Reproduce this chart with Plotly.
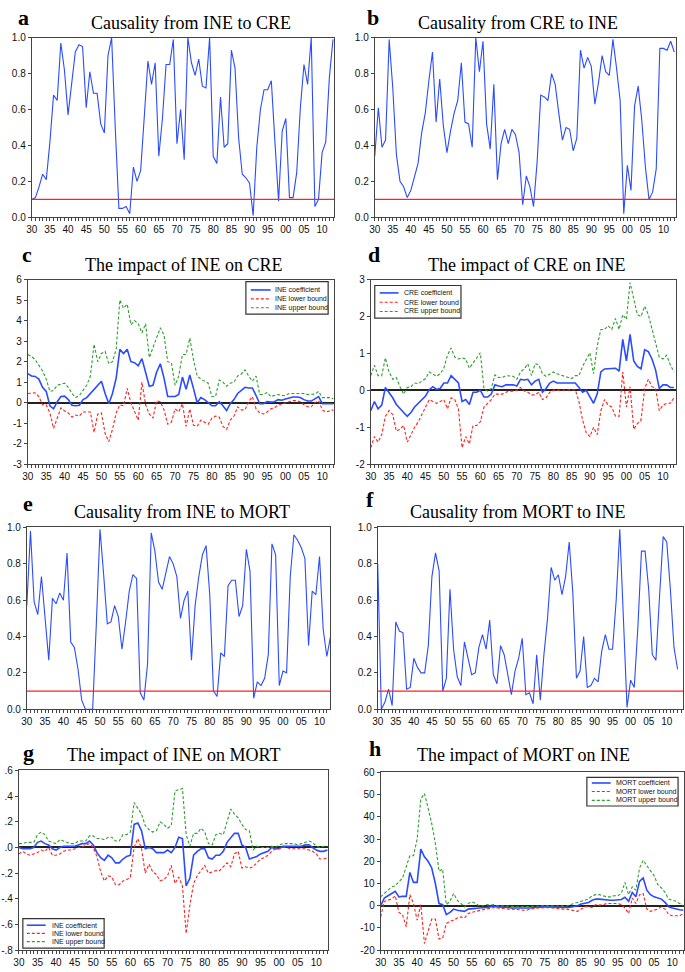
import plotly.graph_objects as go

years = list(range(1930, 2014))

# Panel a: Causality from INE to CRE (p-values)
a_vals = [0.10,0.11,0.17,0.24,0.21,0.42,0.68,0.65,0.97,0.82,
          0.57,0.76,0.92,0.96,0.95,0.61,0.81,0.69,0.69,0.52,
          0.47,0.90,1.00,0.50,0.05,0.05,0.06,0.02,0.28,0.20,
          0.26,0.56,0.87,0.74,0.86,0.34,0.55,0.85,0.85,0.99,
          0.41,0.60,0.32,1.00,0.86,0.79,0.88,0.73,0.72,1.00,
          0.34,0.30,0.67,0.39,0.41,0.93,0.83,0.44,0.24,0.22,
          0.19,0.01,0.39,0.60,0.71,0.71,0.76,0.42,0.09,0.48,
          0.55,0.11,0.11,0.25,0.61,0.85,0.74,1.00,0.06,0.10,
          0.36,0.42,0.78,0.99]

# Panel b: Causality from CRE to INE
b_vals = [0.34,0.61,0.39,0.43,0.99,0.72,0.35,0.20,0.17,0.11,
          0.15,0.22,0.30,0.47,0.58,0.76,0.92,0.53,0.77,0.51,
          0.36,0.48,0.58,0.65,0.86,0.53,0.52,0.39,1.00,0.81,
          0.98,0.52,0.38,0.74,0.21,0.41,0.49,0.41,0.49,0.46,
          0.36,0.07,0.23,0.17,0.06,0.31,0.68,0.67,0.65,0.80,
          0.74,0.58,0.43,0.50,0.49,0.37,0.44,0.93,0.83,0.89,
          0.84,0.63,0.75,0.90,0.81,0.79,0.99,0.83,0.65,0.02,
          0.29,0.15,0.62,0.73,0.54,0.28,0.10,0.14,0.27,0.94,
          0.94,0.93,0.98,0.92]

# Panel c: impact of INE on CRE
c_coef = [1.42,1.30,1.28,1.15,0.75,0.55,-0.15,-0.30,0.05,0.30,
          0.32,0.15,-0.12,-0.15,-0.12,0.15,0.25,0.45,0.65,0.85,
          1.05,0.45,-0.05,0.45,1.20,2.60,2.40,2.60,2.00,1.95,
          1.80,2.15,1.50,0.80,0.85,1.50,1.90,1.20,0.30,0.30,
          0.30,0.40,1.25,0.65,1.35,0.70,0.00,0.25,0.15,0.00,
          -0.15,-0.15,0.05,-0.15,-0.38,-0.05,0.15,0.45,0.60,0.75,
          0.72,0.72,0.35,-0.05,-0.05,0.05,0.03,0.05,0.15,0.12,
          0.18,0.22,0.28,0.28,0.25,0.15,0.08,0.08,0.20,0.30,
          -0.05,-0.05,-0.05,-0.05]
c_low = [0.45,0.45,0.48,0.30,-0.10,-0.10,-0.50,-1.25,-0.70,-0.25,
         -0.40,-0.50,-0.70,-0.60,-0.65,-0.45,-0.45,-0.45,-1.45,-0.55,
         -0.50,-1.50,-1.90,-1.30,-0.50,-0.10,-0.15,0.70,0.00,-0.45,
         -0.85,1.00,-0.10,-0.55,-0.75,0.10,0.05,-0.35,-1.05,-0.95,
         -0.30,-0.45,-0.05,-1.15,-0.30,-1.10,-1.15,-0.85,-0.95,-1.05,
         -0.75,-0.65,-0.70,-1.15,-1.30,-0.85,-0.65,-0.20,-0.35,-0.35,
         0.05,0.30,-0.30,-0.50,-0.55,-0.45,-0.30,-0.25,-0.10,-0.10,
         0.00,0.05,0.10,0.10,0.05,-0.10,-0.20,-0.20,0.00,0.10,
         -0.35,-0.45,-0.40,-0.35]
c_up = [2.35,2.25,2.10,1.85,1.55,1.15,0.55,0.60,0.85,0.90,
        0.95,0.75,0.45,0.25,0.35,0.60,0.85,1.30,2.85,2.00,
        2.40,2.50,1.90,2.00,2.60,5.00,4.60,4.80,3.80,4.00,
        3.85,3.40,3.85,2.20,2.70,3.20,3.65,3.30,2.00,1.95,
        0.85,1.30,2.35,2.35,3.15,2.10,1.30,1.15,1.05,0.95,
        0.30,0.30,1.10,1.00,0.80,0.95,1.00,1.30,1.40,1.60,
        1.30,1.05,1.30,0.40,0.40,0.50,0.30,0.35,0.40,0.35,
        0.35,0.45,0.45,0.48,0.48,0.45,0.40,0.40,0.42,0.55,
        0.25,0.25,0.25,0.20]

# Panel d: impact of CRE on INE
d_coef = [-0.55,-0.30,-0.50,-0.40,0.08,-0.05,-0.20,-0.38,-0.50,-0.60,
          -0.70,-0.60,-0.45,-0.35,-0.25,-0.15,0.02,0.10,0.03,0.05,
          0.20,0.20,0.40,0.30,0.20,-0.30,-0.25,-0.38,-0.05,-0.05,
          0.00,-0.18,-0.18,-0.10,0.15,0.12,0.10,0.15,0.15,0.15,
          0.12,0.30,0.28,0.30,0.15,0.25,0.30,-0.05,0.05,0.20,
          0.25,0.20,0.20,0.20,0.18,0.18,0.20,0.08,-0.05,0.00,
          -0.18,-0.35,-0.10,0.50,0.58,0.58,0.58,0.60,0.52,1.38,
          0.80,1.52,0.80,0.65,0.58,1.10,1.05,0.85,0.55,0.05,
          0.15,0.15,0.08,0.08]
d_low = [-1.55,-1.25,-1.40,-1.20,-0.70,-0.55,-0.65,-1.10,-1.05,-0.95,
         -1.40,-1.20,-1.00,-0.85,-0.65,-0.45,-0.25,-0.30,-0.35,-0.30,
         -0.25,-0.50,-0.20,-0.25,-0.50,-1.55,-1.25,-1.45,-0.95,-0.95,
         -0.85,-0.45,-0.35,-0.25,-0.10,-0.10,-0.10,-0.05,-0.02,-0.02,
         0.00,0.08,-0.02,-0.05,-0.12,-0.12,-0.05,-0.25,-0.20,-0.05,
         0.00,0.00,0.00,0.00,0.02,0.02,0.02,-0.30,-0.80,-1.15,
         -1.25,-1.00,-1.20,-0.55,-0.25,-0.40,-0.45,-0.70,-0.70,0.50,
         -0.45,0.10,-1.05,-0.90,-0.80,0.05,0.30,0.10,0.05,-0.55,
         -0.40,-0.35,-0.35,-0.20]
d_up = [0.40,0.68,0.40,0.40,0.88,0.50,0.30,0.35,0.10,-0.10,
        0.08,0.10,0.20,0.18,0.25,0.32,0.50,0.45,0.38,0.45,
        0.60,0.95,1.15,0.90,0.85,0.88,0.85,0.60,0.75,0.90,
        1.02,0.05,-0.02,0.05,0.42,0.35,0.35,0.40,0.40,0.38,
        0.30,0.50,0.58,0.72,0.40,0.72,0.70,0.45,0.38,0.45,
        0.50,0.45,0.42,0.38,0.35,0.32,0.40,0.40,0.65,0.85,
        1.02,0.45,1.20,1.65,1.65,1.75,1.65,1.95,1.65,2.05,
        1.92,2.92,2.50,2.05,2.00,2.28,2.05,1.65,1.30,0.90,
        0.85,0.95,0.70,0.50]

# Panel e: Causality from INE to MORT
e_vals = [0.57,0.98,0.59,0.52,0.73,0.48,0.27,0.61,0.58,0.64,
          0.60,0.86,0.37,0.34,0.22,0.05,0.00,0.00,0.00,0.47,
          0.99,0.74,0.47,0.48,0.57,0.51,0.33,0.48,0.65,0.74,
          0.72,0.09,0.05,0.25,0.97,0.87,0.70,0.66,0.76,0.84,
          0.80,0.73,0.50,0.60,0.65,0.27,0.57,0.73,0.85,0.90,
          0.63,0.10,0.07,0.31,0.29,0.68,0.71,0.71,0.51,0.57,
          0.88,0.76,0.06,0.15,0.13,0.17,0.30,0.91,0.85,0.13,
          0.21,0.20,0.73,0.96,0.93,0.89,0.83,0.35,0.65,0.63,
          0.84,0.44,0.29,0.40]

# Panel f: Causality from MORT to INE
f_vals = [0.80,0.00,0.04,0.11,0.02,0.48,0.43,0.42,0.11,0.12,
          0.28,0.23,0.20,0.20,0.35,0.73,0.86,0.76,0.10,0.17,
          0.66,0.33,0.18,0.13,0.37,0.28,0.19,0.20,0.34,0.41,
          0.33,0.49,0.19,0.14,0.35,0.30,0.20,0.08,0.21,0.28,
          0.39,0.08,0.09,0.03,0.30,0.05,0.30,0.50,0.78,0.71,
          0.74,0.63,0.73,0.92,0.64,0.17,0.21,0.40,0.12,0.13,
          0.17,0.15,0.32,0.41,0.33,0.33,0.60,0.99,0.50,0.01,
          0.16,0.12,0.45,0.87,0.87,0.66,0.30,0.27,0.62,0.95,
          0.92,0.66,0.34,0.22]

# Panel g: impact of INE on MORT
g_coef = [0.00,-0.01,-0.01,-0.01,0.00,0.04,0.05,0.03,0.02,-0.01,
          -0.02,0.00,0.01,0.01,0.01,0.01,0.02,0.03,0.03,0.05,
          0.02,-0.04,-0.08,-0.10,-0.06,-0.08,-0.12,-0.12,-0.09,-0.07,
          -0.06,0.18,0.19,0.13,-0.01,0.00,-0.01,-0.04,-0.04,-0.04,
          -0.02,-0.04,0.00,0.08,0.07,-0.30,-0.24,-0.06,-0.03,-0.01,
          -0.01,-0.08,-0.09,-0.06,-0.06,-0.03,0.04,0.08,0.11,0.11,
          0.02,0.00,-0.09,-0.08,-0.07,-0.05,-0.04,-0.03,0.00,-0.01,
          -0.01,0.01,0.01,0.01,0.01,0.01,0.01,0.02,0.02,0.00,
          -0.02,-0.03,-0.03,-0.02]
g_low = [-0.05,-0.03,-0.05,-0.06,-0.05,-0.04,-0.02,-0.03,0.00,-0.06,
         -0.06,-0.05,-0.03,-0.02,-0.02,-0.01,0.00,0.00,0.02,0.03,
         0.00,-0.07,-0.19,-0.26,-0.22,-0.23,-0.29,-0.29,-0.26,-0.25,
         -0.23,0.00,0.07,-0.01,-0.20,-0.13,-0.19,-0.21,-0.26,-0.25,
         -0.22,-0.14,-0.28,-0.23,-0.30,-0.67,-0.45,-0.28,-0.22,-0.18,
         -0.14,-0.20,-0.19,-0.18,-0.18,-0.15,-0.12,-0.15,-0.05,-0.03,
         -0.16,-0.15,-0.16,-0.15,-0.12,-0.09,-0.08,-0.06,-0.03,-0.01,
         -0.01,0.00,0.00,-0.01,-0.01,-0.01,-0.01,-0.01,-0.02,-0.03,
         -0.05,-0.09,-0.09,-0.08]
g_up = [0.03,0.03,0.04,0.04,0.04,0.10,0.12,0.10,0.05,0.04,
        0.03,0.06,0.05,0.04,0.03,0.03,0.05,0.05,0.05,0.09,
        0.09,0.07,0.07,0.06,0.08,0.08,0.05,0.05,0.10,0.10,
        0.12,0.35,0.30,0.26,0.17,0.14,0.12,0.13,0.20,0.18,
        0.15,0.17,0.44,0.45,0.46,0.10,0.01,0.11,0.11,0.15,
        0.12,0.03,0.02,0.10,0.11,0.10,0.20,0.30,0.26,0.23,
        0.18,0.14,0.13,-0.02,0.01,0.00,0.00,0.00,0.01,0.00,
        0.02,0.03,0.03,0.03,0.03,0.02,0.03,0.04,0.05,0.04,
        0.01,0.00,0.01,0.01]

# Panel h: impact of MORT on INE
h_coef = [0.0,3.5,4.5,5.5,6.5,4.0,4.3,4.2,15.0,10.5,
          10.5,25.5,22.0,20.0,17.0,10.0,1.0,0.5,-4.0,-3.0,
          -1.5,-2.0,-2.2,-2.5,-1.5,-1.2,-1.2,-1.0,-1.0,-0.8,
          -0.5,-0.2,-0.5,-0.5,-0.8,-0.8,-1.0,-1.0,-1.0,-1.2,
          -1.2,-1.0,-0.8,-0.6,-0.5,-0.5,-0.5,-0.6,-0.7,-0.8,
          -0.8,-0.8,-0.7,-0.5,0.0,0.8,1.2,1.5,2.5,3.0,
          3.0,2.8,2.5,2.5,2.5,2.5,2.8,3.8,2.0,6.0,
          4.0,11.0,12.5,7.0,5.0,4.0,3.5,3.0,1.5,-0.5,
          -1.0,-1.5,-1.8,-2.0]
h_low = [-5.0,2.0,2.5,3.0,4.5,-3.0,-4.0,-9.5,5.0,1.0,
         -6.5,0.5,-17.0,-12.0,-6.0,-6.0,-15.0,-14.5,-8.0,-7.0,
         -6.5,-5.5,-5.0,-5.5,-3.5,-3.0,-2.5,-2.0,-1.8,-1.5,
         -1.2,-0.8,-1.0,-1.2,-1.5,-1.5,-1.5,-1.5,-1.8,-2.0,
         -2.0,-1.5,-1.2,-1.0,-1.0,-0.8,-0.8,-1.0,-1.2,-1.5,
         -1.5,-1.5,-1.8,-2.2,-2.5,-1.5,-0.5,-0.3,-0.8,0.5,
         0.3,0.5,1.0,1.0,1.0,1.0,0.5,-1.0,-3.5,3.5,
         1.0,5.0,5.5,-1.5,-2.5,-2.0,-1.5,-0.5,-1.5,-4.0,
         -4.5,-4.5,-4.5,-3.5]
h_up = [4.0,5.5,7.0,8.5,9.0,11.0,12.5,17.5,22.5,22.5,
        30.0,48.0,50.5,44.0,37.0,28.0,15.5,16.5,0.5,2.0,
        5.5,2.5,1.0,-0.5,1.0,1.8,1.0,0.0,0.0,0.5,
        0.3,0.5,0.0,0.0,-0.2,-0.3,-0.3,-0.5,-0.5,-0.5,
        -0.3,-0.3,-0.3,-0.2,0.0,0.0,0.0,-0.2,-0.2,-0.2,
        -0.2,-0.2,0.5,1.0,1.5,2.0,2.5,3.0,4.5,5.0,
        5.0,4.5,4.0,4.0,4.5,4.5,5.5,10.5,5.0,8.5,
        7.0,17.0,20.5,18.0,16.0,13.5,9.5,8.0,6.0,3.0,
        2.5,2.0,1.0,0.0]

threshold = 0.1
xtick_vals = list(range(1930, 2011, 5))
xtick_text = ["30","35","40","45","50","55","60","65","70","75",
              "80","85","90","95","00","05","10"]

W, H = 685, 972
BLUE = "#2a4bff"
RED = "#ff2020"
GREEN = "#2e9e2e"
FRAME = "#444444"
TICKFONT = dict(family="Liberation Sans, Arial", size=10, color="#111111")
SERIF = "Liberation Serif, Times New Roman, serif"
DASH = "3px,2px"

def dom(px, py):
    return [px[0] / W, px[1] / W], [1 - py[1] / H, 1 - py[0] / H]

panels = [
    dict(k="a", title="Causality from INE to CRE", px=(26, 331), py=(32, 214), xmax=2013.3,
         yr=[0, 1], ytv=[0, 0.2, 0.4, 0.6, 0.8, 1.0], ytt=["0.0","0.2","0.4","0.6","0.8","1.0"],
         lx=10, ly=12, tx=187, ty=17),
    dict(k="b", title="Causality from CRE to INE", px=(372, 676), py=(32, 214), xmax=2013.5,
         yr=[0, 1], ytv=[0, 0.2, 0.4, 0.6, 0.8, 1.0], ytt=["0.0","0.2","0.4","0.6","0.8","1.0"],
         lx=362, ly=12, tx=517, ty=17),
    dict(k="c", title="The impact of INE on CRE", px=(22, 331), py=(277, 464), xmax=2013.2,
         yr=[-3, 6], ytv=list(range(-3, 7)), ytt=[str(v) for v in range(-3, 7)],
         lx=14, ly=252, tx=179, ty=262),
    dict(k="d", title="The impact of CRE on INE", px=(368, 676), py=(277, 464), xmax=2013.6,
         yr=[-2, 3], ytv=list(range(-2, 4)), ytt=[str(v) for v in range(-2, 4)],
         lx=363, ly=252, tx=525, ty=262),
    dict(k="e", title="Causality from INE to MORT", px=(21, 327), py=(528, 712), xmax=2012.9,
         yr=[0, 1], ytv=[0, 0.2, 0.4, 0.6, 0.8, 1.0], ytt=["0.0","0.2","0.4","0.6","0.8","1.0"],
         lx=15, ly=504, tx=178, ty=512),
    dict(k="f", title="Causality from MORT to INE", px=(375, 683), py=(528, 712), xmax=2014.5,
         yr=[0, 1], ytv=[0, 0.2, 0.4, 0.6, 0.8, 1.0], ytt=["0.0","0.2","0.4","0.6","0.8","1.0"],
         lx=361, ly=500, tx=517, ty=512),
    dict(k="g", title="The impact of INE on MORT", px=(13, 325), py=(774, 956), xmax=2013.2,
         yr=[-0.8, 0.6], ytv=[-0.8, -0.6, -0.4, -0.2, 0.0, 0.2, 0.4, 0.6],
         ytt=["-.8", "-.6", "-.4", "-.2", ".0", ".2", ".4", ".6"],
         lx=15, ly=756, tx=169, ty=758),
    dict(k="h", title="The impact of MORT on INE", px=(378, 684), py=(776, 956), xmax=2013.2,
         yr=[-20, 60], ytv=list(range(-20, 61, 10)), ytt=[str(v) for v in range(-20, 61, 10)],
         lx=364, ly=752, tx=522, ty=758),
]

series = {
    "a": [("p", a_vals)],
    "b": [("p", b_vals)],
    "c": [("INE", c_coef, c_low, c_up)],
    "d": [("CRE", d_coef, d_low, d_up)],
    "e": [("p", e_vals)],
    "f": [("p", f_vals)],
    "g": [("INE", g_coef, g_low, g_up)],
    "h": [("MORT", h_coef, h_low, h_up)],
}

# legend boxes: (box x0, y0, x1, y1, sample x0, sample x1, text x, row y's) in pixels
legend_boxes = {
    "c": (242, 279, 325, 312, 247, 267, 269, (287.5, 296.5, 305.5)),
    "d": (372, 283, 459, 316, 377, 396, 400, (290.5, 300, 309.3)),
    "g": (17, 924, 99, 954, 21, 40, 44, (930.7, 939, 947.3)),
    "h": (586, 781, 678, 810, 591, 610, 613, (786.7, 795.3, 804.3)),
}

fig = go.Figure()
layout = dict(width=W, height=H, margin=dict(l=0, r=0, t=0, b=0),
              paper_bgcolor="white", plot_bgcolor="white", showlegend=False)
annotations = []
shapes = []

def px2paper(x, y):
    return x / W, 1 - y / H

for i, p in enumerate(panels):
    n = "" if i == 0 else str(i + 1)
    xa, ya = "x" + n, "y" + n
    xd, yd = dom(p["px"], p["py"])
    layout["xaxis" + n] = dict(
        domain=xd, anchor=ya, range=[1930, p["xmax"]],
        tickmode="array", tickvals=xtick_vals, ticktext=xtick_text,
        ticks="outside", ticklen=3, tickcolor=FRAME,
        minor=dict(tickmode="linear", tick0=1930, dtick=1, ticks="outside", ticklen=3, tickcolor=FRAME),
        showline=True, linecolor=FRAME, linewidth=1, mirror=True,
        showgrid=False, zeroline=False, tickfont=TICKFONT,
    )
    layout["yaxis" + n] = dict(
        domain=yd, anchor=xa, range=p["yr"],
        tickmode="array", tickvals=p["ytv"], ticktext=p["ytt"],
        ticks="outside", ticklen=3, tickcolor=FRAME,
        showline=True, linecolor=FRAME, linewidth=1, mirror=True,
        showgrid=False, tickfont=TICKFONT,
        zeroline=p["k"] in ("c", "d", "g", "h"),
        zerolinecolor="#222222", zerolinewidth=1.5,
    )
    for s in series[p["k"]]:
        if s[0] == "p":
            fig.add_trace(go.Scatter(x=years, y=s[1], xaxis=xa, yaxis=ya, mode="lines",
                                     line=dict(color=BLUE, width=1.1)))
            shapes.append(dict(type="line", xref=xa + " domain", yref=ya, x0=0, x1=1,
                               y0=threshold, y1=threshold, line=dict(color=RED, width=1.3)))
        else:
            name, coef, low, up = s
            fig.add_trace(go.Scatter(x=years, y=coef, xaxis=xa, yaxis=ya, mode="lines",
                                     name=name + " coefficient",
                                     line=dict(color=BLUE, width=1.6)))
            fig.add_trace(go.Scatter(x=years, y=low, xaxis=xa, yaxis=ya, mode="lines",
                                     name=name + " lower bound",
                                     line=dict(color=RED, width=1.1, dash=DASH)))
            fig.add_trace(go.Scatter(x=years, y=up, xaxis=xa, yaxis=ya, mode="lines",
                                     name=name + " upper bound",
                                     line=dict(color=GREEN, width=1.1, dash=DASH)))
            # manual legend box
            bx0, by0, bx1, by1, sx0, sx1, tx, rows = legend_boxes[p["k"]]
            X0, Y0 = px2paper(bx0, by0)
            X1, Y1 = px2paper(bx1, by1)
            shapes.append(dict(type="rect", xref="paper", yref="paper", x0=X0, y0=Y1, x1=X1, y1=Y0,
                               fillcolor="white", line=dict(color="#333333", width=1.2), layer="above"))
            labels = [name + " coefficient", name + " lower bound", name + " upper bound"]
            styles = [dict(color=BLUE, width=1.6), dict(color=RED, width=1.1, dash=DASH),
                      dict(color=GREEN, width=1.1, dash=DASH)]
            for lab, st, ry in zip(labels, styles, rows):
                lx0, ly = px2paper(sx0, ry)
                lx1, _ = px2paper(sx1, ry)
                shapes.append(dict(type="line", xref="paper", yref="paper", x0=lx0, x1=lx1,
                                   y0=ly, y1=ly, line=st, layer="above"))
                tX, _ = px2paper(tx, ry)
                annotations.append(dict(text=lab, x=tX, y=ly, xref="paper", yref="paper",
                                        xanchor="left", yanchor="middle", showarrow=False,
                                        font=dict(family="Liberation Sans, Arial", size=7,
                                                  color="#111111")))
    annotations.append(dict(text="<b>" + p["k"] + "</b>", x=p["lx"] / W, y=1 - p["ly"] / H,
                            xref="paper", yref="paper", xanchor="left", yanchor="middle",
                            showarrow=False, font=dict(family=SERIF, size=22, color="black")))
    annotations.append(dict(text=p["title"], x=p["tx"] / W, y=1 - p["ty"] / H,
                            xref="paper", yref="paper", xanchor="center", yanchor="middle",
                            showarrow=False, font=dict(family=SERIF, size=18, color="black")))

layout["annotations"] = annotations
layout["shapes"] = shapes
fig.update_layout(**layout)
fig.write_html("out.html", config={"displayModeBar": False},
               post_script="document.body.style.margin='0px';document.body.style.padding='0px';")
